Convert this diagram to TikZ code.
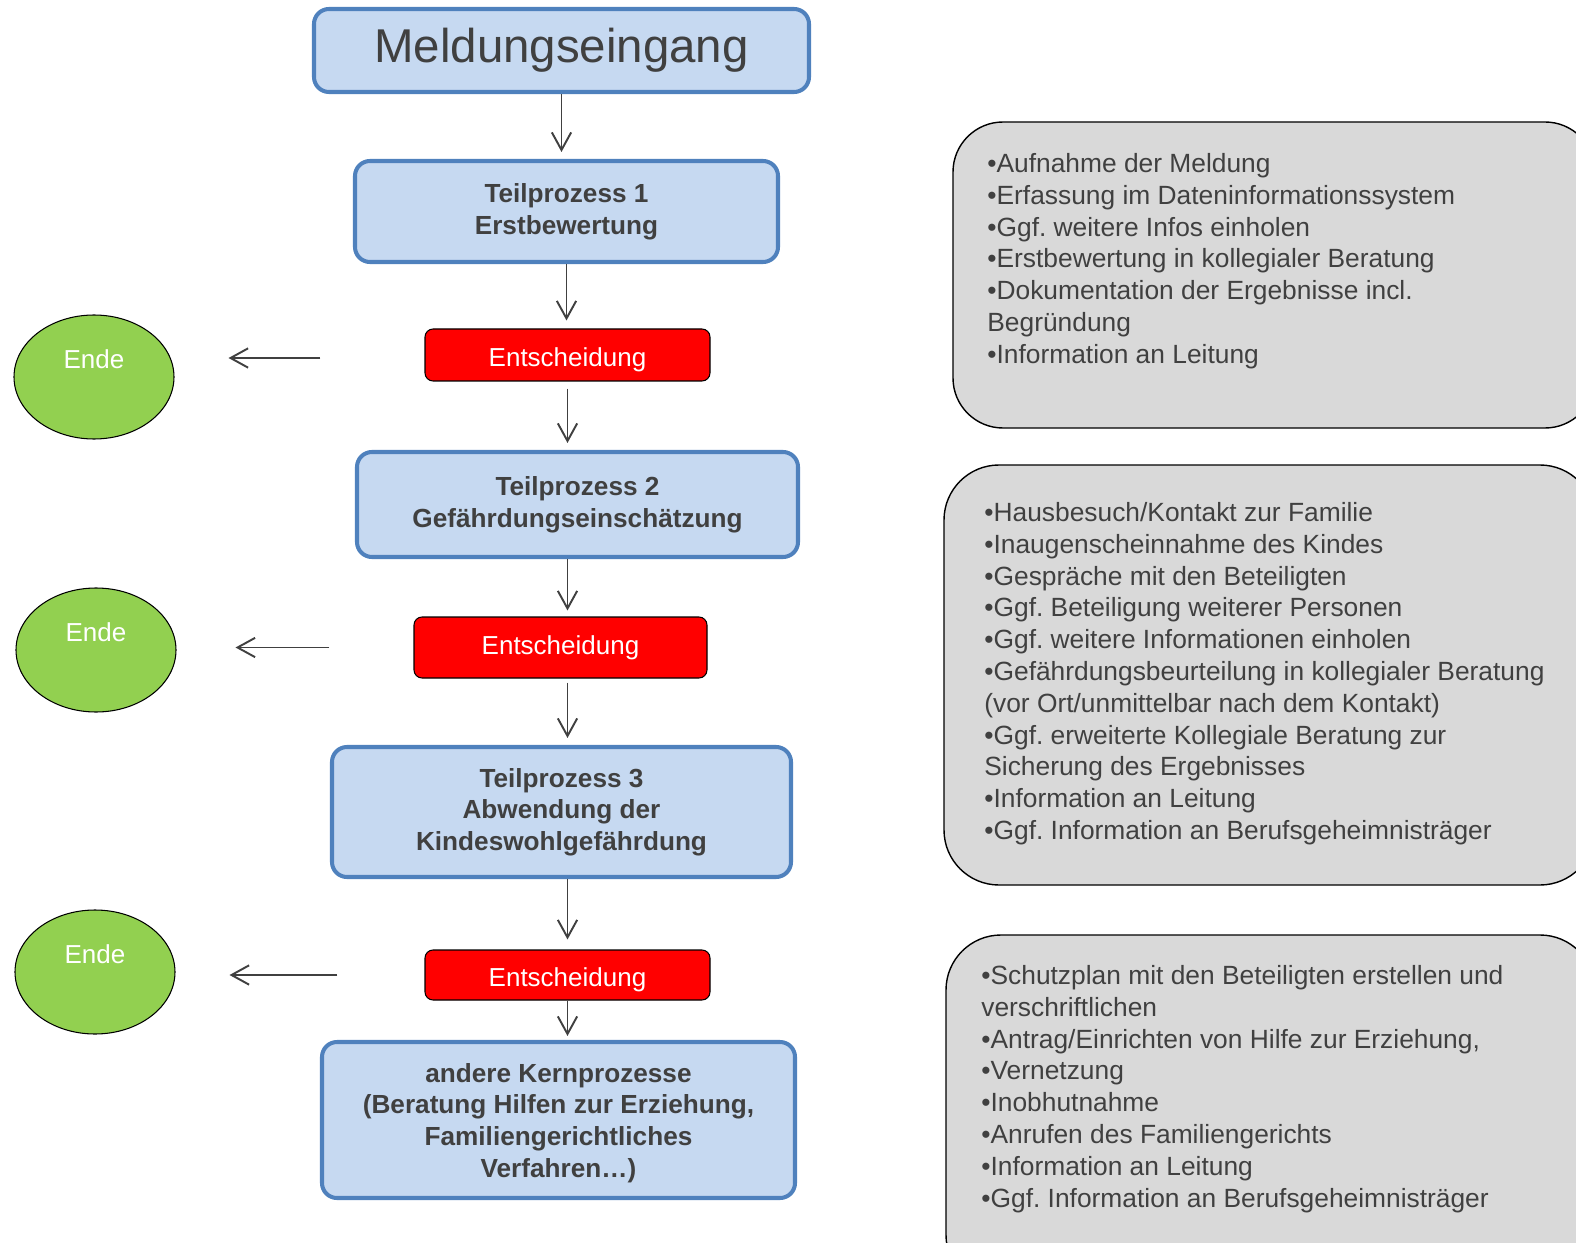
\documentclass[tikz,border=0pt]{standalone}
\usepackage{fontspec}
\setmainfont{Liberation Sans}
\usepackage{xcolor}
\usepackage{tikz}
\usetikzlibrary{shapes.geometric,arrows.meta}
\definecolor{boxblue}{RGB}{198,217,241}
\definecolor{borderblue}{RGB}{79,129,189}
\definecolor{endgreen}{RGB}{146,208,80}
\definecolor{infogray}{RGB}{217,217,217}
\definecolor{textgray}{RGB}{64,64,64}
\frenchspacing

\begin{document}
\begin{tikzpicture}[node distance=1.5cm, auto]
    \tikzstyle{process} = [rectangle, rounded corners=0.3cm, draw=borderblue, line width=2.3pt, fill=boxblue, text=textgray, align=center, font=\fontsize{14.9}{18}\selectfont\bfseries]
    \tikzstyle{decision} = [rectangle, rounded corners=0.16cm, draw=black, line width=0.6pt, fill=red, text=white, font=\fontsize{14.8}{18}\selectfont]
    \tikzstyle{ende} = [ellipse, draw=black, line width=0.6pt, fill=endgreen, minimum width=3.2cm, minimum height=2.48cm]
    \tikzstyle{info} = [anchor=north west, inner sep=0pt, align=left, text=textgray, font=\fontsize{15}{18.1}\selectfont]
    \tikzstyle{arrow} = [-{Straight Barb[length=10pt, width=11pt]}, draw=textgray, line width=1.1pt]

    \clip (0,0) rectangle (31.52,-24.86);

    % Main process chain
    \node [process, minimum width=9.9cm, minimum height=1.66cm, font=\fontsize{27}{30}\selectfont] (meld) at (11.23,-1.01) {Meldungseingang};
    \node [process, below of=meld, yshift=-1.72cm, xshift=0.1cm, minimum width=8.46cm, minimum height=2.02cm] (tp1) {Teilprozess 1\\Erstbewertung};
    \node [decision, below of=tp1, yshift=-1.37cm, xshift=0.02cm, minimum width=5.7cm, minimum height=1.04cm, text height=16pt] (ent1) {Entscheidung};
    \node [process, below of=ent1, yshift=-1.49cm, xshift=0.2cm, minimum width=8.82cm, minimum height=2.1cm] (tp2) {Teilprozess 2\\Gefährdungseinschätzung};
    \node [decision, below of=tp2, yshift=-1.36cm, xshift=-0.34cm, minimum width=5.86cm, minimum height=1.22cm] (ent2) {Entscheidung};
    \node [process, below of=ent2, yshift=-1.79cm, xshift=0.02cm, minimum width=9.18cm, minimum height=2.6cm] (tp3) {Teilprozess 3\\Abwendung der\\Kindeswohlgefährdung};
    \node [decision, below of=tp3, yshift=-1.76cm, xshift=0.12cm, minimum width=5.7cm, minimum height=1.0cm, text height=16pt] (ent3) {Entscheidung};
    \node [process, below of=ent3, yshift=-1.4cm, xshift=-0.18cm, minimum width=9.46cm, minimum height=3.12cm] (kern) {\rule{0pt}{14pt}andere Kernprozesse\\(Beratung Hilfen zur Erziehung,\\Familiengerichtliches\\Verfahren\dots)};

    % End states
    \node [ende, left of=ent1, xshift=-7.97cm, yshift=-0.44cm, label={[white, yshift=0.36cm, font=\fontsize{14.8}{18}\selectfont]center:Ende}] (ende1) {};
    \node [ende, left of=ent2, xshift=-7.79cm, yshift=-0.05cm, label={[white, yshift=0.36cm, font=\fontsize{14.8}{18}\selectfont]center:Ende}] (ende2) {};
    \node [ende, left of=ent3, xshift=-7.95cm, yshift=0.06cm, label={[white, yshift=0.36cm, font=\fontsize{14.8}{18}\selectfont]center:Ende}] (ende3) {};

    % Info boxes
    \draw [fill=infogray, draw=black, line width=0.8pt, rounded corners=1cm] (19.06,-2.44) rectangle (31.9,-8.56);
    \draw [fill=infogray, draw=black, line width=0.8pt, rounded corners=1.1cm] (18.88,-9.30) rectangle (31.9,-17.70);
    \draw [fill=infogray, draw=black, line width=0.8pt, rounded corners=1.1cm] (18.92,-18.70) rectangle (31.9,-25.8);

    \node [info] (info1) at (19.74,-3.06) {•Aufnahme der Meldung\\•Erfassung im Dateninformationssystem\\•Ggf. weitere Infos einholen\\•Erstbewertung in kollegialer Beratung\\•Dokumentation der Ergebnisse incl.\\Begründung\\•Information an Leitung};
    \node [info] (info2) at (19.68,-10.04) {•Hausbesuch/Kontakt zur Familie\\•Inaugenscheinnahme des Kindes\\•Gespräche mit den Beteiligten\\•Ggf. Beteiligung weiterer Personen\\•Ggf. weitere Informationen einholen\\•Gefährdungsbeurteilung in kollegialer Beratung\\(vor Ort/unmittelbar nach dem Kontakt)\\•Ggf. erweiterte Kollegiale Beratung zur\\Sicherung des Ergebnisses\\•Information an Leitung\\•Ggf. Information an Berufsgeheimnisträger};
    \node [info] (info3) at (19.62,-19.30) {•Schutzplan mit den Beteiligten erstellen und\\verschriftlichen\\•Antrag/Einrichten von Hilfe zur Erziehung,\\•Vernetzung\\•Inobhutnahme\\•Anrufen des Familiengerichts\\•Information an Leitung\\•Ggf. Information an Berufsgeheimnisträger};

    % Arrows down the chain
    \draw [arrow, shorten >=0.14cm] (meld.south) -- (meld.south |- tp1.north);
    \draw [arrow, shorten >=0.16cm] (tp1.south) -- (tp1.south |- ent1.north);
    \draw [arrow, shorten <=0.14cm, shorten >=0.14cm] (ent1.south) -- (ent1.south |- tp2.north);
    \draw [arrow, shorten >=0.12cm] (tp2.south -| ent1.south) -- (ent2.north -| ent1.south);
    \draw [arrow, shorten <=0.08cm, shorten >=0.14cm] (ent2.south -| ent1.south) -- (tp3.north -| ent1.south);
    \draw [arrow, shorten >=0.2cm] (tp3.south -| ent1.south) -- (ent3.north -| ent1.south);
    \draw [arrow, shorten >=0.08cm] (ent3.south) -- (ent3.south |- kern.north);

    % Arrows to the end states
    \draw [arrow, shorten <=2.08cm, shorten >=1.08cm] ([yshift=-0.06cm]ent1.west) -- ([yshift=-0.06cm]ende1.east |- ent1.west);
    \draw [arrow, shorten <=1.68cm, shorten >=1.18cm] (ent2.west) -- (ende2.east |- ent2.west);
    \draw [arrow, shorten <=1.74cm, shorten >=1.08cm] (ent3.west) -- (ende3.east |- ent3.west);
\end{tikzpicture}
\end{document}
